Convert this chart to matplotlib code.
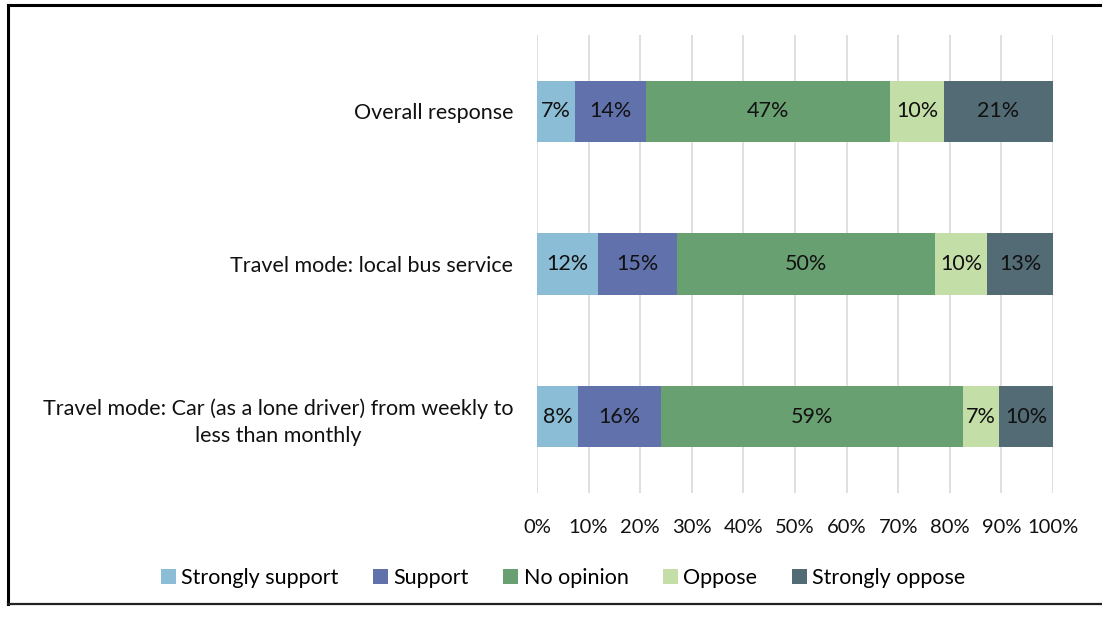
import matplotlib
matplotlib.use("Agg")
import matplotlib.pyplot as plt
from matplotlib.lines import Line2D
from matplotlib.patches import Patch

plt.rcParams["font.family"] = ["Lato", "DejaVu Sans"]

# response groups, top to bottom
groups = [
    "Overall response",
    "Travel mode: local bus service",
    "Travel mode: Car (as a lone driver) from weekly to\nless than monthly",
]
levels = ["Strongly support", "Support", "No opinion", "Oppose", "Strongly oppose"]

# share of respondents (%) per level, one value per group
strongly_support = [7.4, 11.8, 7.9]
support          = [13.7, 15.3, 16.1]
no_opinion       = [47.4, 50.0, 58.6]
oppose           = [10.4, 10.1, 7.0]
strongly_oppose  = [21.1, 12.8, 10.4]

series = [strongly_support, support, no_opinion, oppose, strongly_oppose]
colors = ["#8BBED6", "#6171AC", "#69A072", "#C4DEA8", "#536B74"]
xticks = list(range(0, 101, 10))

FS = 15.5
W, H = 1102, 618
fig = plt.figure(figsize=(W / 100, H / 100), dpi=100)
ax = fig.add_axes([537 / W, 1 - 493 / H, (1053 - 537) / W, (493 - 35) / H])

ypos = list(range(len(groups)))
left = [0.0] * len(groups)
for vals, col, name in zip(series, colors, levels):
    bars = ax.barh(ypos, vals, left=left, height=0.4, color=col,
                   label=name, zorder=3)
    for b, v in zip(bars, vals):
        ax.text(b.get_x() + b.get_width() / 2, b.get_y() + b.get_height() / 2,
                "%.0f%%" % v, ha="center", va="center", fontsize=FS,
                color="#111111", zorder=4)
    left = [l + v for l, v in zip(left, vals)]

ax.set_xlim(0, 100)
ax.set_ylim(len(groups) - 0.5, -0.5)
ax.set_xticks(xticks)
ax.set_xticklabels(["%d%%" % t for t in xticks], fontsize=14.5)
ax.set_yticks(ypos)
ax.set_yticklabels(groups, fontsize=FS, multialignment="center",
                   linespacing=1.45)
ax.tick_params(axis="both", length=0, colors="#111111")
ax.tick_params(axis="x", pad=19)
ax.tick_params(axis="y", pad=17)
ax.grid(True, axis="x", color="#D9D9D9", lw=1.2, zorder=0)
for s in ax.spines.values():
    s.set_visible(False)

handles = [Patch(facecolor=c, edgecolor="none") for c in colors]
fig.legend(handles, levels, loc="center", ncol=5, frameon=False,
           bbox_to_anchor=(563 / W, 1 - 578 / H), fontsize=FS,
           handlelength=0.7, handleheight=0.7, handletextpad=0.25,
           columnspacing=1.6, borderpad=0)

# chart frame (open on the right)
fx0, fy0, fy1 = 8 / W, 1 - 604 / H, 1 - 5 / H
fig.add_artist(Line2D([fx0, 1.0], [fy1, fy1], transform=fig.transFigure,
                      color="black", lw=2.2))
fig.add_artist(Line2D([fx0, fx0], [fy0, fy1], transform=fig.transFigure,
                      color="black", lw=2.2))
fig.add_artist(Line2D([fx0, 1.0], [fy0, fy0], transform=fig.transFigure,
                      color="#222222", lw=1.6))

fig.savefig("out.png", dpi=100)
